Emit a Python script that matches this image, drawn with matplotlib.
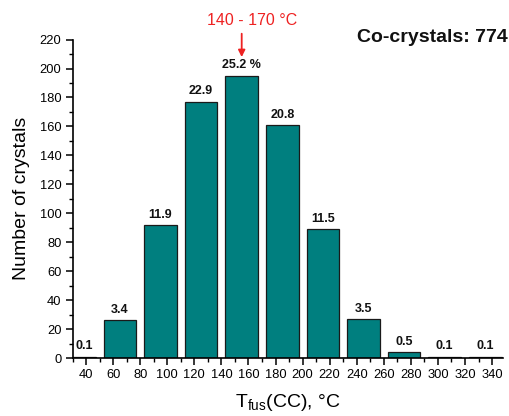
import matplotlib
matplotlib.use("Agg")
import matplotlib.pyplot as plt
from matplotlib.ticker import MultipleLocator

plt.rcParams['font.family'] = ['Liberation Sans', 'DejaVu Sans']
plt.rcParams['mathtext.default'] = 'regular'

# Data
bin_starts = [20, 50, 80, 110, 140, 170, 200, 230, 260, 290, 320]
counts = [1, 26, 92, 177, 195, 161, 89, 27, 4, 1, 1]
pct_labels = ["0.1", "3.4", "11.9", "22.9", "25.2 %", "20.8", "11.5", "3.5", "0.5", "0.1", "0.1"]
x_ticks = list(range(40, 341, 20))
y_ticks = list(range(0, 221, 20))
bin_width = 30
bar_w = 24
x_min, x_max = 30, 348

fig = plt.figure(figsize=(5.09, 4.16), dpi=100)
ax = fig.add_axes([0.1425, 0.1394, 0.988 - 0.1425, 0.9048 - 0.1394])

centers = [s + bin_width / 2 for s in bin_starts]
ax.bar(centers, counts, width=bar_w, color='#007f7f', edgecolor='#1a1a1a', linewidth=0.9, zorder=2)

for c, v, t in zip(centers, counts, pct_labels):
    left = max(c - bar_w / 2, x_min)
    right = min(c + bar_w / 2, x_max)
    ax.text((left + right) / 2, v + 3, t, ha='center', va='bottom', fontsize=9,
            fontweight='bold', color='#111111')

ax.set_xlim(x_min, x_max)
ax.set_ylim(0, 220)
ax.set_xticks(x_ticks)
ax.set_yticks(y_ticks)
ax.xaxis.set_minor_locator(MultipleLocator(10))
ax.yaxis.set_minor_locator(MultipleLocator(10))
ax.tick_params(which='major', direction='out', length=5, width=1.1, labelsize=9.3, pad=3)
ax.tick_params(which='minor', direction='out', length=2.8, width=1.0)

for s in ['top', 'right']:
    ax.spines[s].set_visible(False)
for s in ['left', 'bottom']:
    ax.spines[s].set_linewidth(1.2)

ax.set_ylabel('Number of crystals', fontsize=14)
ax.yaxis.set_label_coords(-0.099, 0.5)
ax.set_xlabel('T$_{fus}$(CC), °C', fontsize=14)
ax.xaxis.set_label_coords(0.5, -0.108)

# Annotation
ax.text(163, 233, '140 - 170 °C', color='#ee2222', fontsize=11.5, ha='center', va='center', clip_on=False)
ax.annotate('', xy=(155, 206), xytext=(155, 226),
            arrowprops=dict(arrowstyle='-|>', color='#ee2222', lw=1.3, mutation_scale=10),
            annotation_clip=False)

fig.text(0.997, 1 - 38 / 416, 'Co-crystals: 774', fontsize=14, fontweight='bold',
         ha='right', va='center', color='#111111')

fig.savefig('out.png', dpi=100)
